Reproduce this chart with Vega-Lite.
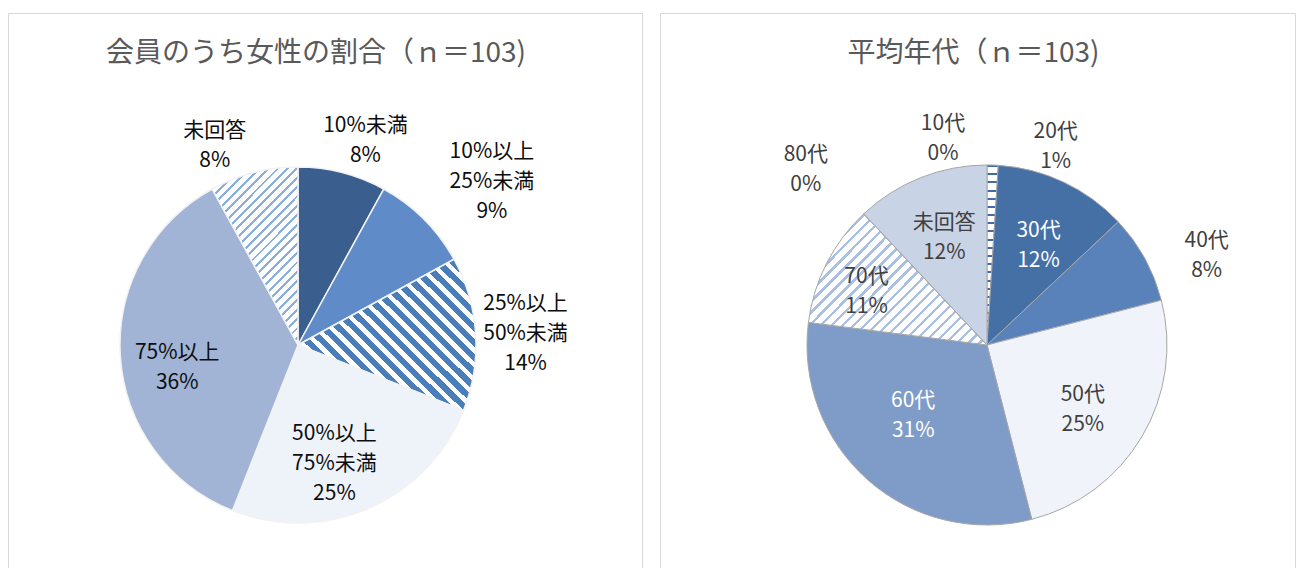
{
  "$schema": "https://vega.github.io/schema/vega-lite/v6.json",
  "padding": {"left": 7, "top": 12, "right": 0, "bottom": 0},
  "spacing": 16,
  "resolve": {"scale": {"fill": "independent", "theta": "independent"}},
  "config": {
    "font": "Noto Sans CJK JP",
    "view": {"stroke": "#D9D9D9", "strokeWidth": 1},
    "title": {"font": "Noto Sans CJK JP", "fontSize": 28, "fontWeight": "normal", "color": "#595959", "anchor": "middle", "baseline": "middle"}
  },
  "datasets": {
    "left": [
      {"i": 1, "cat": "10%未満", "v": 8, "label": ["10%未満", "8%"]},
      {"i": 2, "cat": "10%以上25%未満", "v": 9, "label": ["10%以上", "25%未満", "9%"]},
      {"i": 3, "cat": "25%以上50%未満", "v": 14, "label": ["25%以上", "50%未満", "14%"]},
      {"i": 4, "cat": "50%以上75%未満", "v": 25, "label": ["50%以上", "75%未満", "25%"]},
      {"i": 5, "cat": "75%以上", "v": 36, "label": ["75%以上", "36%"]},
      {"i": 6, "cat": "未回答", "v": 8, "label": ["未回答", "8%"]}
    ],
    "right": [
      {"i": 1, "cat": "10代", "v": 0, "label": ["10代", "0%"]},
      {"i": 2, "cat": "20代", "v": 1, "label": ["20代", "1%"]},
      {"i": 3, "cat": "30代", "v": 12, "label": ["30代", "12%"]},
      {"i": 4, "cat": "40代", "v": 8, "label": ["40代", "8%"]},
      {"i": 5, "cat": "50代", "v": 25, "label": ["50代", "25%"]},
      {"i": 6, "cat": "60代", "v": 31, "label": ["60代", "31%"]},
      {"i": 7, "cat": "70代", "v": 11, "label": ["70代", "11%"]},
      {"i": 8, "cat": "80代", "v": 0, "label": ["80代", "0%"]},
      {"i": 9, "cat": "未回答", "v": 12, "label": ["未回答", "12%"]}
    ]
  },
  "hconcat": [
    {
      "width": 634,
      "height": 664,
      "view": {"stroke": "#D9D9D9", "strokeWidth": 1},
      "title": {"text": "会員のうち女性の割合（ｎ＝103)", "offset": -55, "dx": -9},
      "data": {"name": "left"},
      "layer": [
        {
          "mark": {"type": "arc", "outerRadius": 178, "x": 290, "stroke": "#F2F2F2", "strokeWidth": 1.5},
          "encoding": {
            "theta": {"field": "v", "type": "quantitative", "stack": true},
            "order": {"field": "i", "type": "quantitative"},
            "fill": {
              "field": "cat", "type": "nominal", "legend": null,
              "scale": {
                "domain": ["10%未満", "10%以上25%未満", "25%以上50%未満", "50%以上75%未満", "75%以上", "未回答"],
                "range": ["#3A5E8E", "#5F8CC8", "#8FB0DC", "#EEF3FA", "#A1B4D6", "#C8D7EE"]
              },
              "condition": [
                {"test": "datum.cat === '25%以上50%未満'", "value": {"gradient": "linear", "x1": 0, "y1": 1, "x2": 1.07, "y2": 0.08, "stops": [
                  {"offset": 0, "color": "#4A7EBB"}, {"offset": 0.025, "color": "#4A7EBB"}, {"offset": 0.025, "color": "#FFFFFF"}, {"offset": 0.0455, "color": "#FFFFFF"},
                  {"offset": 0.0455, "color": "#4A7EBB"}, {"offset": 0.0705, "color": "#4A7EBB"}, {"offset": 0.0705, "color": "#FFFFFF"}, {"offset": 0.0909, "color": "#FFFFFF"},
                  {"offset": 0.0909, "color": "#4A7EBB"}, {"offset": 0.1159, "color": "#4A7EBB"}, {"offset": 0.1159, "color": "#FFFFFF"}, {"offset": 0.1364, "color": "#FFFFFF"},
                  {"offset": 0.1364, "color": "#4A7EBB"}, {"offset": 0.1614, "color": "#4A7EBB"}, {"offset": 0.1614, "color": "#FFFFFF"}, {"offset": 0.1818, "color": "#FFFFFF"},
                  {"offset": 0.1818, "color": "#4A7EBB"}, {"offset": 0.2068, "color": "#4A7EBB"}, {"offset": 0.2068, "color": "#FFFFFF"}, {"offset": 0.2273, "color": "#FFFFFF"},
                  {"offset": 0.2273, "color": "#4A7EBB"}, {"offset": 0.2523, "color": "#4A7EBB"}, {"offset": 0.2523, "color": "#FFFFFF"}, {"offset": 0.2727, "color": "#FFFFFF"},
                  {"offset": 0.2727, "color": "#4A7EBB"}, {"offset": 0.2977, "color": "#4A7EBB"}, {"offset": 0.2977, "color": "#FFFFFF"}, {"offset": 0.3182, "color": "#FFFFFF"},
                  {"offset": 0.3182, "color": "#4A7EBB"}, {"offset": 0.3432, "color": "#4A7EBB"}, {"offset": 0.3432, "color": "#FFFFFF"}, {"offset": 0.3636, "color": "#FFFFFF"},
                  {"offset": 0.3636, "color": "#4A7EBB"}, {"offset": 0.3886, "color": "#4A7EBB"}, {"offset": 0.3886, "color": "#FFFFFF"}, {"offset": 0.4091, "color": "#FFFFFF"},
                  {"offset": 0.4091, "color": "#4A7EBB"}, {"offset": 0.4341, "color": "#4A7EBB"}, {"offset": 0.4341, "color": "#FFFFFF"}, {"offset": 0.4545, "color": "#FFFFFF"},
                  {"offset": 0.4545, "color": "#4A7EBB"}, {"offset": 0.4795, "color": "#4A7EBB"}, {"offset": 0.4795, "color": "#FFFFFF"}, {"offset": 0.5, "color": "#FFFFFF"},
                  {"offset": 0.5, "color": "#4A7EBB"}, {"offset": 0.525, "color": "#4A7EBB"}, {"offset": 0.525, "color": "#FFFFFF"}, {"offset": 0.5455, "color": "#FFFFFF"},
                  {"offset": 0.5455, "color": "#4A7EBB"}, {"offset": 0.5705, "color": "#4A7EBB"}, {"offset": 0.5705, "color": "#FFFFFF"}, {"offset": 0.5909, "color": "#FFFFFF"},
                  {"offset": 0.5909, "color": "#4A7EBB"}, {"offset": 0.6159, "color": "#4A7EBB"}, {"offset": 0.6159, "color": "#FFFFFF"}, {"offset": 0.6364, "color": "#FFFFFF"},
                  {"offset": 0.6364, "color": "#4A7EBB"}, {"offset": 0.6614, "color": "#4A7EBB"}, {"offset": 0.6614, "color": "#FFFFFF"}, {"offset": 0.6818, "color": "#FFFFFF"},
                  {"offset": 0.6818, "color": "#4A7EBB"}, {"offset": 0.7068, "color": "#4A7EBB"}, {"offset": 0.7068, "color": "#FFFFFF"}, {"offset": 0.7273, "color": "#FFFFFF"},
                  {"offset": 0.7273, "color": "#4A7EBB"}, {"offset": 0.7523, "color": "#4A7EBB"}, {"offset": 0.7523, "color": "#FFFFFF"}, {"offset": 0.7727, "color": "#FFFFFF"},
                  {"offset": 0.7727, "color": "#4A7EBB"}, {"offset": 0.7977, "color": "#4A7EBB"}, {"offset": 0.7977, "color": "#FFFFFF"}, {"offset": 0.8182, "color": "#FFFFFF"},
                  {"offset": 0.8182, "color": "#4A7EBB"}, {"offset": 0.8432, "color": "#4A7EBB"}, {"offset": 0.8432, "color": "#FFFFFF"}, {"offset": 0.8636, "color": "#FFFFFF"},
                  {"offset": 0.8636, "color": "#4A7EBB"}, {"offset": 0.8886, "color": "#4A7EBB"}, {"offset": 0.8886, "color": "#FFFFFF"}, {"offset": 0.9091, "color": "#FFFFFF"},
                  {"offset": 0.9091, "color": "#4A7EBB"}, {"offset": 0.9341, "color": "#4A7EBB"}, {"offset": 0.9341, "color": "#FFFFFF"}, {"offset": 0.9545, "color": "#FFFFFF"},
                  {"offset": 0.9545, "color": "#4A7EBB"}, {"offset": 0.9795, "color": "#4A7EBB"}, {"offset": 0.9795, "color": "#FFFFFF"}, {"offset": 1, "color": "#FFFFFF"}
                ]}},
                {"test": "datum.cat === '未回答'", "value": {"gradient": "linear", "x1": 0, "y1": 0, "x2": 0.581, "y2": 1.202, "stops": [
                  {"offset": 0, "color": "#8AAEDD"}, {"offset": 0.011, "color": "#8AAEDD"}, {"offset": 0.011, "color": "#FFFFFF"}, {"offset": 0.0357, "color": "#FFFFFF"},
                  {"offset": 0.0357, "color": "#8AAEDD"}, {"offset": 0.0467, "color": "#8AAEDD"}, {"offset": 0.0467, "color": "#FFFFFF"}, {"offset": 0.0714, "color": "#FFFFFF"},
                  {"offset": 0.0714, "color": "#8AAEDD"}, {"offset": 0.0824, "color": "#8AAEDD"}, {"offset": 0.0824, "color": "#FFFFFF"}, {"offset": 0.1071, "color": "#FFFFFF"},
                  {"offset": 0.1071, "color": "#8AAEDD"}, {"offset": 0.1181, "color": "#8AAEDD"}, {"offset": 0.1181, "color": "#FFFFFF"}, {"offset": 0.1429, "color": "#FFFFFF"},
                  {"offset": 0.1429, "color": "#8AAEDD"}, {"offset": 0.1539, "color": "#8AAEDD"}, {"offset": 0.1539, "color": "#FFFFFF"}, {"offset": 0.1786, "color": "#FFFFFF"},
                  {"offset": 0.1786, "color": "#8AAEDD"}, {"offset": 0.1896, "color": "#8AAEDD"}, {"offset": 0.1896, "color": "#FFFFFF"}, {"offset": 0.2143, "color": "#FFFFFF"},
                  {"offset": 0.2143, "color": "#8AAEDD"}, {"offset": 0.2253, "color": "#8AAEDD"}, {"offset": 0.2253, "color": "#FFFFFF"}, {"offset": 0.25, "color": "#FFFFFF"},
                  {"offset": 0.25, "color": "#8AAEDD"}, {"offset": 0.261, "color": "#8AAEDD"}, {"offset": 0.261, "color": "#FFFFFF"}, {"offset": 0.2857, "color": "#FFFFFF"},
                  {"offset": 0.2857, "color": "#8AAEDD"}, {"offset": 0.2967, "color": "#8AAEDD"}, {"offset": 0.2967, "color": "#FFFFFF"}, {"offset": 0.3214, "color": "#FFFFFF"},
                  {"offset": 0.3214, "color": "#8AAEDD"}, {"offset": 0.3324, "color": "#8AAEDD"}, {"offset": 0.3324, "color": "#FFFFFF"}, {"offset": 0.3571, "color": "#FFFFFF"},
                  {"offset": 0.3571, "color": "#8AAEDD"}, {"offset": 0.3681, "color": "#8AAEDD"}, {"offset": 0.3681, "color": "#FFFFFF"}, {"offset": 0.3929, "color": "#FFFFFF"},
                  {"offset": 0.3929, "color": "#8AAEDD"}, {"offset": 0.4039, "color": "#8AAEDD"}, {"offset": 0.4039, "color": "#FFFFFF"}, {"offset": 0.4286, "color": "#FFFFFF"},
                  {"offset": 0.4286, "color": "#8AAEDD"}, {"offset": 0.4396, "color": "#8AAEDD"}, {"offset": 0.4396, "color": "#FFFFFF"}, {"offset": 0.4643, "color": "#FFFFFF"},
                  {"offset": 0.4643, "color": "#8AAEDD"}, {"offset": 0.4753, "color": "#8AAEDD"}, {"offset": 0.4753, "color": "#FFFFFF"}, {"offset": 0.5, "color": "#FFFFFF"},
                  {"offset": 0.5, "color": "#8AAEDD"}, {"offset": 0.511, "color": "#8AAEDD"}, {"offset": 0.511, "color": "#FFFFFF"}, {"offset": 0.5357, "color": "#FFFFFF"},
                  {"offset": 0.5357, "color": "#8AAEDD"}, {"offset": 0.5467, "color": "#8AAEDD"}, {"offset": 0.5467, "color": "#FFFFFF"}, {"offset": 0.5714, "color": "#FFFFFF"},
                  {"offset": 0.5714, "color": "#8AAEDD"}, {"offset": 0.5824, "color": "#8AAEDD"}, {"offset": 0.5824, "color": "#FFFFFF"}, {"offset": 0.6071, "color": "#FFFFFF"},
                  {"offset": 0.6071, "color": "#8AAEDD"}, {"offset": 0.6181, "color": "#8AAEDD"}, {"offset": 0.6181, "color": "#FFFFFF"}, {"offset": 0.6429, "color": "#FFFFFF"},
                  {"offset": 0.6429, "color": "#8AAEDD"}, {"offset": 0.6539, "color": "#8AAEDD"}, {"offset": 0.6539, "color": "#FFFFFF"}, {"offset": 0.6786, "color": "#FFFFFF"},
                  {"offset": 0.6786, "color": "#8AAEDD"}, {"offset": 0.6896, "color": "#8AAEDD"}, {"offset": 0.6896, "color": "#FFFFFF"}, {"offset": 0.7143, "color": "#FFFFFF"},
                  {"offset": 0.7143, "color": "#8AAEDD"}, {"offset": 0.7253, "color": "#8AAEDD"}, {"offset": 0.7253, "color": "#FFFFFF"}, {"offset": 0.75, "color": "#FFFFFF"},
                  {"offset": 0.75, "color": "#8AAEDD"}, {"offset": 0.761, "color": "#8AAEDD"}, {"offset": 0.761, "color": "#FFFFFF"}, {"offset": 0.7857, "color": "#FFFFFF"},
                  {"offset": 0.7857, "color": "#8AAEDD"}, {"offset": 0.7967, "color": "#8AAEDD"}, {"offset": 0.7967, "color": "#FFFFFF"}, {"offset": 0.8214, "color": "#FFFFFF"},
                  {"offset": 0.8214, "color": "#8AAEDD"}, {"offset": 0.8324, "color": "#8AAEDD"}, {"offset": 0.8324, "color": "#FFFFFF"}, {"offset": 0.8571, "color": "#FFFFFF"},
                  {"offset": 0.8571, "color": "#8AAEDD"}, {"offset": 0.8681, "color": "#8AAEDD"}, {"offset": 0.8681, "color": "#FFFFFF"}, {"offset": 0.8929, "color": "#FFFFFF"},
                  {"offset": 0.8929, "color": "#8AAEDD"}, {"offset": 0.9039, "color": "#8AAEDD"}, {"offset": 0.9039, "color": "#FFFFFF"}, {"offset": 0.9286, "color": "#FFFFFF"},
                  {"offset": 0.9286, "color": "#8AAEDD"}, {"offset": 0.9396, "color": "#8AAEDD"}, {"offset": 0.9396, "color": "#FFFFFF"}, {"offset": 0.9643, "color": "#FFFFFF"},
                  {"offset": 0.9643, "color": "#8AAEDD"}, {"offset": 0.9753, "color": "#8AAEDD"}, {"offset": 0.9753, "color": "#FFFFFF"}, {"offset": 1, "color": "#FFFFFF"}
                ]}}
              ]
            }
          }
        },
        {
          "mark": {"type": "text", "x": 290, "radius": 219, "dx": 13, "dy": -7, "fontSize": 21, "lineHeight": 30, "color": "#0D0D0D"},
          "encoding": {"theta": {"field": "v", "type": "quantitative", "stack": true}, "order": {"field": "i", "type": "quantitative"},
            "text": {"condition": {"test": "datum.cat !== '10%未満'", "value": ""}, "field": "label"}}
        },
        {
          "mark": {"type": "text", "x": 290, "radius": 253, "dx": 15, "dy": -14, "fontSize": 21, "lineHeight": 30, "color": "#0D0D0D"},
          "encoding": {"theta": {"field": "v", "type": "quantitative", "stack": true}, "order": {"field": "i", "type": "quantitative"},
            "text": {"condition": {"test": "datum.cat !== '10%以上25%未満'", "value": ""}, "field": "label"}}
        },
        {
          "mark": {"type": "text", "x": 290, "radius": 228, "dx": 0, "dy": -27, "fontSize": 21, "lineHeight": 30, "color": "#0D0D0D"},
          "encoding": {"theta": {"field": "v", "type": "quantitative", "stack": true}, "order": {"field": "i", "type": "quantitative"},
            "text": {"condition": {"test": "datum.cat !== '25%以上50%未満'", "value": ""}, "field": "label"}}
        },
        {
          "mark": {"type": "text", "x": 290, "radius": 122, "dx": -12, "dy": -23, "fontSize": 21, "lineHeight": 30, "color": "#0D0D0D"},
          "encoding": {"theta": {"field": "v", "type": "quantitative", "stack": true}, "order": {"field": "i", "type": "quantitative"},
            "text": {"condition": {"test": "datum.cat !== '50%以上75%未満'", "value": ""}, "field": "label"}}
        },
        {
          "mark": {"type": "text", "x": 290, "radius": 124, "dx": 3, "dy": 0, "fontSize": 21, "lineHeight": 30, "color": "#0D0D0D"},
          "encoding": {"theta": {"field": "v", "type": "quantitative", "stack": true}, "order": {"field": "i", "type": "quantitative"},
            "text": {"condition": {"test": "datum.cat !== '75%以上'", "value": ""}, "field": "label"}}
        },
        {
          "mark": {"type": "text", "x": 290, "radius": 222, "dx": -28, "dy": 1, "fontSize": 21, "lineHeight": 30, "color": "#0D0D0D"},
          "encoding": {"theta": {"field": "v", "type": "quantitative", "stack": true}, "order": {"field": "i", "type": "quantitative"},
            "text": {"condition": {"test": "datum.cat !== '未回答'", "value": ""}, "field": "label"}}
        }
      ]
    },
    {
      "width": 635,
      "height": 664,
      "view": {"stroke": "#D9D9D9", "strokeWidth": 1},
      "title": {"text": "平均年代（ｎ＝103)", "offset": -55, "dx": -4},
      "data": {"name": "right"},
      "layer": [
        {
          "mark": {"type": "arc", "outerRadius": 180, "x": 327, "stroke": "#A6A6A6", "strokeWidth": 1},
          "encoding": {
            "theta": {"field": "v", "type": "quantitative", "stack": true},
            "order": {"field": "i", "type": "quantitative"},
            "fill": {
              "field": "cat", "type": "nominal", "legend": null,
              "scale": {
                "domain": ["10代", "20代", "30代", "40代", "50代", "60代", "70代", "80代", "未回答"],
                "range": ["#DDE5F2", "#DDE5F2", "#4470A6", "#5A82BA", "#F0F4FA", "#7F9CC8", "#D3DEF0", "#D3DEF0", "#C9D3E6"]
              },
              "condition": [
                {"test": "datum.cat === '20代'", "value": {"gradient": "linear", "x1": 0, "y1": 0, "x2": 0, "y2": 1, "stops": [
                  {"offset": 0, "color": "#3F6BA9"}, {"offset": 0.0114, "color": "#3F6BA9"}, {"offset": 0.0114, "color": "#FFFFFF"}, {"offset": 0.0455, "color": "#FFFFFF"},
                  {"offset": 0.0455, "color": "#3F6BA9"}, {"offset": 0.0569, "color": "#3F6BA9"}, {"offset": 0.0569, "color": "#FFFFFF"}, {"offset": 0.0909, "color": "#FFFFFF"},
                  {"offset": 0.0909, "color": "#3F6BA9"}, {"offset": 0.1023, "color": "#3F6BA9"}, {"offset": 0.1023, "color": "#FFFFFF"}, {"offset": 0.1364, "color": "#FFFFFF"},
                  {"offset": 0.1364, "color": "#3F6BA9"}, {"offset": 0.1478, "color": "#3F6BA9"}, {"offset": 0.1478, "color": "#FFFFFF"}, {"offset": 0.1818, "color": "#FFFFFF"},
                  {"offset": 0.1818, "color": "#3F6BA9"}, {"offset": 0.1932, "color": "#3F6BA9"}, {"offset": 0.1932, "color": "#FFFFFF"}, {"offset": 0.2273, "color": "#FFFFFF"},
                  {"offset": 0.2273, "color": "#3F6BA9"}, {"offset": 0.2387, "color": "#3F6BA9"}, {"offset": 0.2387, "color": "#FFFFFF"}, {"offset": 0.2727, "color": "#FFFFFF"},
                  {"offset": 0.2727, "color": "#3F6BA9"}, {"offset": 0.2841, "color": "#3F6BA9"}, {"offset": 0.2841, "color": "#FFFFFF"}, {"offset": 0.3182, "color": "#FFFFFF"},
                  {"offset": 0.3182, "color": "#3F6BA9"}, {"offset": 0.3296, "color": "#3F6BA9"}, {"offset": 0.3296, "color": "#FFFFFF"}, {"offset": 0.3636, "color": "#FFFFFF"},
                  {"offset": 0.3636, "color": "#3F6BA9"}, {"offset": 0.375, "color": "#3F6BA9"}, {"offset": 0.375, "color": "#FFFFFF"}, {"offset": 0.4091, "color": "#FFFFFF"},
                  {"offset": 0.4091, "color": "#3F6BA9"}, {"offset": 0.4205, "color": "#3F6BA9"}, {"offset": 0.4205, "color": "#FFFFFF"}, {"offset": 0.4545, "color": "#FFFFFF"},
                  {"offset": 0.4545, "color": "#3F6BA9"}, {"offset": 0.4659, "color": "#3F6BA9"}, {"offset": 0.4659, "color": "#FFFFFF"}, {"offset": 0.5, "color": "#FFFFFF"},
                  {"offset": 0.5, "color": "#3F6BA9"}, {"offset": 0.5114, "color": "#3F6BA9"}, {"offset": 0.5114, "color": "#FFFFFF"}, {"offset": 0.5455, "color": "#FFFFFF"},
                  {"offset": 0.5455, "color": "#3F6BA9"}, {"offset": 0.5569, "color": "#3F6BA9"}, {"offset": 0.5569, "color": "#FFFFFF"}, {"offset": 0.5909, "color": "#FFFFFF"},
                  {"offset": 0.5909, "color": "#3F6BA9"}, {"offset": 0.6023, "color": "#3F6BA9"}, {"offset": 0.6023, "color": "#FFFFFF"}, {"offset": 0.6364, "color": "#FFFFFF"},
                  {"offset": 0.6364, "color": "#3F6BA9"}, {"offset": 0.6478, "color": "#3F6BA9"}, {"offset": 0.6478, "color": "#FFFFFF"}, {"offset": 0.6818, "color": "#FFFFFF"},
                  {"offset": 0.6818, "color": "#3F6BA9"}, {"offset": 0.6932, "color": "#3F6BA9"}, {"offset": 0.6932, "color": "#FFFFFF"}, {"offset": 0.7273, "color": "#FFFFFF"},
                  {"offset": 0.7273, "color": "#3F6BA9"}, {"offset": 0.7387, "color": "#3F6BA9"}, {"offset": 0.7387, "color": "#FFFFFF"}, {"offset": 0.7727, "color": "#FFFFFF"},
                  {"offset": 0.7727, "color": "#3F6BA9"}, {"offset": 0.7841, "color": "#3F6BA9"}, {"offset": 0.7841, "color": "#FFFFFF"}, {"offset": 0.8182, "color": "#FFFFFF"},
                  {"offset": 0.8182, "color": "#3F6BA9"}, {"offset": 0.8296, "color": "#3F6BA9"}, {"offset": 0.8296, "color": "#FFFFFF"}, {"offset": 0.8636, "color": "#FFFFFF"},
                  {"offset": 0.8636, "color": "#3F6BA9"}, {"offset": 0.875, "color": "#3F6BA9"}, {"offset": 0.875, "color": "#FFFFFF"}, {"offset": 0.9091, "color": "#FFFFFF"},
                  {"offset": 0.9091, "color": "#3F6BA9"}, {"offset": 0.9205, "color": "#3F6BA9"}, {"offset": 0.9205, "color": "#FFFFFF"}, {"offset": 0.9545, "color": "#FFFFFF"},
                  {"offset": 0.9545, "color": "#3F6BA9"}, {"offset": 0.9659, "color": "#3F6BA9"}, {"offset": 0.9659, "color": "#FFFFFF"}, {"offset": 1, "color": "#FFFFFF"}
                ]}},
                {"test": "datum.cat === '70代'", "value": {"gradient": "linear", "x1": 0, "y1": 0, "x2": 1.127, "y2": 0.824, "stops": [
                  {"offset": 0, "color": "#A9BFE3"}, {"offset": 0.011, "color": "#A9BFE3"}, {"offset": 0.011, "color": "#FFFFFF"}, {"offset": 0.0357, "color": "#FFFFFF"},
                  {"offset": 0.0357, "color": "#A9BFE3"}, {"offset": 0.0467, "color": "#A9BFE3"}, {"offset": 0.0467, "color": "#FFFFFF"}, {"offset": 0.0714, "color": "#FFFFFF"},
                  {"offset": 0.0714, "color": "#A9BFE3"}, {"offset": 0.0824, "color": "#A9BFE3"}, {"offset": 0.0824, "color": "#FFFFFF"}, {"offset": 0.1071, "color": "#FFFFFF"},
                  {"offset": 0.1071, "color": "#A9BFE3"}, {"offset": 0.1181, "color": "#A9BFE3"}, {"offset": 0.1181, "color": "#FFFFFF"}, {"offset": 0.1429, "color": "#FFFFFF"},
                  {"offset": 0.1429, "color": "#A9BFE3"}, {"offset": 0.1539, "color": "#A9BFE3"}, {"offset": 0.1539, "color": "#FFFFFF"}, {"offset": 0.1786, "color": "#FFFFFF"},
                  {"offset": 0.1786, "color": "#A9BFE3"}, {"offset": 0.1896, "color": "#A9BFE3"}, {"offset": 0.1896, "color": "#FFFFFF"}, {"offset": 0.2143, "color": "#FFFFFF"},
                  {"offset": 0.2143, "color": "#A9BFE3"}, {"offset": 0.2253, "color": "#A9BFE3"}, {"offset": 0.2253, "color": "#FFFFFF"}, {"offset": 0.25, "color": "#FFFFFF"},
                  {"offset": 0.25, "color": "#A9BFE3"}, {"offset": 0.261, "color": "#A9BFE3"}, {"offset": 0.261, "color": "#FFFFFF"}, {"offset": 0.2857, "color": "#FFFFFF"},
                  {"offset": 0.2857, "color": "#A9BFE3"}, {"offset": 0.2967, "color": "#A9BFE3"}, {"offset": 0.2967, "color": "#FFFFFF"}, {"offset": 0.3214, "color": "#FFFFFF"},
                  {"offset": 0.3214, "color": "#A9BFE3"}, {"offset": 0.3324, "color": "#A9BFE3"}, {"offset": 0.3324, "color": "#FFFFFF"}, {"offset": 0.3571, "color": "#FFFFFF"},
                  {"offset": 0.3571, "color": "#A9BFE3"}, {"offset": 0.3681, "color": "#A9BFE3"}, {"offset": 0.3681, "color": "#FFFFFF"}, {"offset": 0.3929, "color": "#FFFFFF"},
                  {"offset": 0.3929, "color": "#A9BFE3"}, {"offset": 0.4039, "color": "#A9BFE3"}, {"offset": 0.4039, "color": "#FFFFFF"}, {"offset": 0.4286, "color": "#FFFFFF"},
                  {"offset": 0.4286, "color": "#A9BFE3"}, {"offset": 0.4396, "color": "#A9BFE3"}, {"offset": 0.4396, "color": "#FFFFFF"}, {"offset": 0.4643, "color": "#FFFFFF"},
                  {"offset": 0.4643, "color": "#A9BFE3"}, {"offset": 0.4753, "color": "#A9BFE3"}, {"offset": 0.4753, "color": "#FFFFFF"}, {"offset": 0.5, "color": "#FFFFFF"},
                  {"offset": 0.5, "color": "#A9BFE3"}, {"offset": 0.511, "color": "#A9BFE3"}, {"offset": 0.511, "color": "#FFFFFF"}, {"offset": 0.5357, "color": "#FFFFFF"},
                  {"offset": 0.5357, "color": "#A9BFE3"}, {"offset": 0.5467, "color": "#A9BFE3"}, {"offset": 0.5467, "color": "#FFFFFF"}, {"offset": 0.5714, "color": "#FFFFFF"},
                  {"offset": 0.5714, "color": "#A9BFE3"}, {"offset": 0.5824, "color": "#A9BFE3"}, {"offset": 0.5824, "color": "#FFFFFF"}, {"offset": 0.6071, "color": "#FFFFFF"},
                  {"offset": 0.6071, "color": "#A9BFE3"}, {"offset": 0.6181, "color": "#A9BFE3"}, {"offset": 0.6181, "color": "#FFFFFF"}, {"offset": 0.6429, "color": "#FFFFFF"},
                  {"offset": 0.6429, "color": "#A9BFE3"}, {"offset": 0.6539, "color": "#A9BFE3"}, {"offset": 0.6539, "color": "#FFFFFF"}, {"offset": 0.6786, "color": "#FFFFFF"},
                  {"offset": 0.6786, "color": "#A9BFE3"}, {"offset": 0.6896, "color": "#A9BFE3"}, {"offset": 0.6896, "color": "#FFFFFF"}, {"offset": 0.7143, "color": "#FFFFFF"},
                  {"offset": 0.7143, "color": "#A9BFE3"}, {"offset": 0.7253, "color": "#A9BFE3"}, {"offset": 0.7253, "color": "#FFFFFF"}, {"offset": 0.75, "color": "#FFFFFF"},
                  {"offset": 0.75, "color": "#A9BFE3"}, {"offset": 0.761, "color": "#A9BFE3"}, {"offset": 0.761, "color": "#FFFFFF"}, {"offset": 0.7857, "color": "#FFFFFF"},
                  {"offset": 0.7857, "color": "#A9BFE3"}, {"offset": 0.7967, "color": "#A9BFE3"}, {"offset": 0.7967, "color": "#FFFFFF"}, {"offset": 0.8214, "color": "#FFFFFF"},
                  {"offset": 0.8214, "color": "#A9BFE3"}, {"offset": 0.8324, "color": "#A9BFE3"}, {"offset": 0.8324, "color": "#FFFFFF"}, {"offset": 0.8571, "color": "#FFFFFF"},
                  {"offset": 0.8571, "color": "#A9BFE3"}, {"offset": 0.8681, "color": "#A9BFE3"}, {"offset": 0.8681, "color": "#FFFFFF"}, {"offset": 0.8929, "color": "#FFFFFF"},
                  {"offset": 0.8929, "color": "#A9BFE3"}, {"offset": 0.9039, "color": "#A9BFE3"}, {"offset": 0.9039, "color": "#FFFFFF"}, {"offset": 0.9286, "color": "#FFFFFF"},
                  {"offset": 0.9286, "color": "#A9BFE3"}, {"offset": 0.9396, "color": "#A9BFE3"}, {"offset": 0.9396, "color": "#FFFFFF"}, {"offset": 0.9643, "color": "#FFFFFF"},
                  {"offset": 0.9643, "color": "#A9BFE3"}, {"offset": 0.9753, "color": "#A9BFE3"}, {"offset": 0.9753, "color": "#FFFFFF"}, {"offset": 1, "color": "#FFFFFF"}
                ]}}
              ]
            }
          }
        },
        {
          "mark": {"type": "text", "x": 327, "radius": 214, "dx": -44, "dy": -7, "fontSize": 21, "lineHeight": 30, "color": "#404040"},
          "encoding": {"theta": {"field": "v", "type": "quantitative", "stack": true}, "order": {"field": "i", "type": "quantitative"},
            "text": {"condition": {"test": "datum.cat !== '10代'", "value": ""}, "field": "label"}}
        },
        {
          "mark": {"type": "text", "x": 327, "radius": 212, "dx": 62, "dy": -1, "fontSize": 21, "lineHeight": 30, "color": "#404040"},
          "encoding": {"theta": {"field": "v", "type": "quantitative", "stack": true}, "order": {"field": "i", "type": "quantitative"},
            "text": {"condition": {"test": "datum.cat !== '20代'", "value": ""}, "field": "label"}}
        },
        {
          "mark": {"type": "text", "x": 327, "radius": 114, "dx": 3, "dy": -11, "fontSize": 21, "lineHeight": 30, "color": "#FFFFFF"},
          "encoding": {"theta": {"field": "v", "type": "quantitative", "stack": true}, "order": {"field": "i", "type": "quantitative"},
            "text": {"condition": {"test": "datum.cat !== '30代'", "value": ""}, "field": "label"}}
        },
        {
          "mark": {"type": "text", "x": 327, "radius": 237, "dx": 12, "dy": 10, "fontSize": 21, "lineHeight": 30, "color": "#404040"},
          "encoding": {"theta": {"field": "v", "type": "quantitative", "stack": true}, "order": {"field": "i", "type": "quantitative"},
            "text": {"condition": {"test": "datum.cat !== '40代'", "value": ""}, "field": "label"}}
        },
        {
          "mark": {"type": "text", "x": 327, "radius": 116, "dx": -4, "dy": -9, "fontSize": 21, "lineHeight": 30, "color": "#404040"},
          "encoding": {"theta": {"field": "v", "type": "quantitative", "stack": true}, "order": {"field": "i", "type": "quantitative"},
            "text": {"condition": {"test": "datum.cat !== '50代'", "value": ""}, "field": "label"}}
        },
        {
          "mark": {"type": "text", "x": 327, "radius": 101, "dx": -7, "dy": -20, "fontSize": 21, "lineHeight": 30, "color": "#FFFFFF"},
          "encoding": {"theta": {"field": "v", "type": "quantitative", "stack": true}, "order": {"field": "i", "type": "quantitative"},
            "text": {"condition": {"test": "datum.cat !== '60代'", "value": ""}, "field": "label"}}
        },
        {
          "mark": {"type": "text", "x": 327, "radius": 133, "dx": -2, "dy": -8, "fontSize": 21, "lineHeight": 30, "color": "#404040"},
          "encoding": {"theta": {"field": "v", "type": "quantitative", "stack": true}, "order": {"field": "i", "type": "quantitative"},
            "text": {"condition": {"test": "datum.cat !== '70代'", "value": ""}, "field": "label"}}
        },
        {
          "mark": {"type": "text", "x": 327, "radius": 253, "dx": -8, "dy": -6, "fontSize": 21, "lineHeight": 30, "color": "#404040"},
          "encoding": {"theta": {"field": "v", "type": "quantitative", "stack": true}, "order": {"field": "i", "type": "quantitative"},
            "text": {"condition": {"test": "datum.cat !== '80代'", "value": ""}, "field": "label"}}
        },
        {
          "mark": {"type": "text", "x": 327, "radius": 116, "dx": 0, "dy": -14, "fontSize": 21, "lineHeight": 30, "color": "#404040"},
          "encoding": {"theta": {"field": "v", "type": "quantitative", "stack": true}, "order": {"field": "i", "type": "quantitative"},
            "text": {"condition": {"test": "datum.cat !== '未回答'", "value": ""}, "field": "label"}}
        }
      ]
    }
  ]
}
